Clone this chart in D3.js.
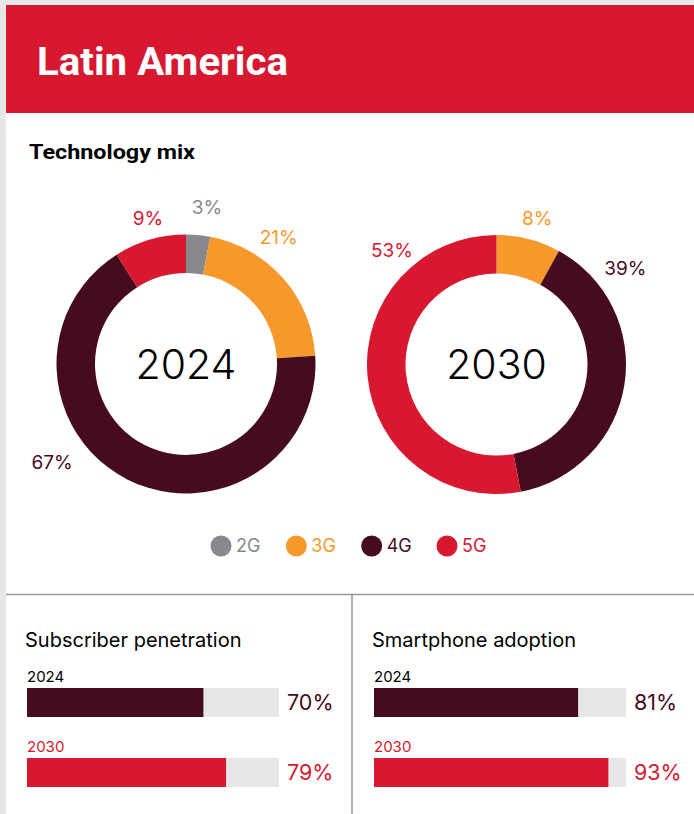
<!DOCTYPE html>
<html>
<head>
<meta charset="utf-8">
<script src="https://cdn.jsdelivr.net/npm/d3@7"></script>
<style>
  html, body { margin: 0; padding: 0; background: #e6e7e8; }
  svg { display: block; }
</style>
</head>
<body>
<svg id="chart" width="694" height="814"></svg>
<script>
// Technology mix data (share of mobile connections, %)
const technologies = ["2G", "3G", "4G", "5G"];
const mix2024 = [3, 21, 67, 9];
const mix2030 = [0, 8, 39, 53];
const mixYears = ["2024", "2030"];

// Penetration / adoption data (%)
const barYears = ["2024", "2030"];
const subscriberPenetration = [70, 79];
const smartphoneAdoption = [81, 93];

const techColors = {"2G": "#88898d", "3G": "#f7982a", "4G": "#470b1e", "5G": "#d7182f"};
const yearColors = {"2024": "#470b1e", "2030": "#d7182f"};
const RED = "#d7182f";

const svg = d3.select("#chart");

// card
svg.append("rect").attr("x", 6).attr("y", 5).attr("width", 688).attr("height", 809).attr("fill", "#fff");

// header band
svg.append("rect").attr("x", 6).attr("y", 5).attr("width", 688).attr("height", 108).attr("fill", RED);
svg.append("text").attr("x", 37).attr("y", 75)
  .attr("font-family", "Roboto, sans-serif").attr("font-weight", 700).attr("font-size", 38)
  .attr("fill", "#fff").attr("textLength", 251).attr("lengthAdjust", "spacingAndGlyphs")
  .text("Latin America");

svg.append("text").attr("x", 29).attr("y", 159)
  .attr("font-family", "Roboto, sans-serif").attr("font-weight", 700).attr("font-size", 20)
  .attr("fill", "#000").attr("textLength", 166).attr("lengthAdjust", "spacingAndGlyphs")
  .text("Technology mix");

// donuts
const arc = d3.arc().innerRadius(91).outerRadius(129.5);
const pie = d3.pie().sort(null).value(d => d.value);

// label placement around each donut: [angle in degrees clockwise from top, radius]
const labelPlacement = {
  "2024": {"2G": [7.6, 158], "3G": [36.2, 157], "4G": [233.8, 166], "5G": [345.4, 151]},
  "2030": {"3G": [15.5, 152], "4G": [53.1, 161], "5G": [317.6, 155]}
};
const donutCenters = {"2024": [186, 364], "2030": [496.5, 364.5]};

[mix2024, mix2030].forEach((values, i) => {
  const year = mixYears[i];
  const [cx, cy] = donutCenters[year];
  const data = technologies.map((t, j) => ({tech: t, value: values[j]}));
  const g = svg.append("g").attr("transform", `translate(${cx},${cy})`);
  const arcs = pie(data).filter(d => d.data.value > 0);
  g.selectAll("path").data(arcs).join("path")
    .attr("d", arc).attr("fill", d => techColors[d.data.tech]);
  g.selectAll("text.pct").data(arcs).join("text").attr("class", "pct")
    .each(function(d) {
      const p = labelPlacement[year][d.data.tech];
      const [x, y] = d3.pointRadial(p[0] * Math.PI / 180, p[1]);
      d3.select(this).attr("x", x).attr("y", y);
    })
    .attr("dy", "0.36em").attr("text-anchor", "middle")
    .attr("font-family", "Inter, sans-serif").attr("font-size", 19)
    .attr("fill", d => techColors[d.data.tech])
    .text(d => d.data.value + "%");
  g.append("text").attr("text-anchor", "middle").attr("dy", "0.36em")
    .attr("font-family", "Inter, sans-serif").attr("font-weight", 300).attr("font-size", 41)
    .attr("fill", "#000").text(year);
});

// legend
const legendX = d3.scalePoint().domain(technologies).range([221, 447]);
const legend = svg.append("g").selectAll("g").data(technologies).join("g")
  .attr("transform", d => `translate(${legendX(d)},546)`);
legend.append("circle").attr("r", 10.5).attr("fill", d => techColors[d]);
legend.append("text").attr("x", 15).attr("dy", "0.36em")
  .attr("font-family", "Inter, sans-serif").attr("font-size", 18)
  .attr("fill", d => techColors[d]).text(d => d);

// dividers
svg.append("line").attr("x1", 6).attr("x2", 694).attr("y1", 594.5).attr("y2", 594.5)
  .attr("stroke", "#9a9a9a").attr("stroke-width", 1.5);
svg.append("line").attr("x1", 352).attr("x2", 352).attr("y1", 594).attr("y2", 814)
  .attr("stroke", "#9a9a9a").attr("stroke-width", 1.5);

// bar panels
function barPanel(x0, title, values) {
  const g = svg.append("g");
  g.append("text").attr("x", x0 - 2).attr("y", 647)
    .attr("font-family", "Inter, sans-serif").attr("font-size", 20).attr("fill", "#000")
    .text(title);
  const x = d3.scaleLinear().domain([0, 100]).range([x0, x0 + 252]);
  const y = d3.scaleOrdinal().domain(barYears).range([688, 758]);
  const barH = 29;
  barYears.forEach((yr, i) => {
    g.append("text").attr("x", x0).attr("y", y(yr) - 6)
      .attr("font-family", "Inter, sans-serif").attr("font-size", 15)
      .attr("fill", yr === "2024" ? "#000" : RED).text(yr);
    g.append("rect").attr("x", x(0)).attr("y", y(yr)).attr("height", barH)
      .attr("width", x(100) - x(0)).attr("fill", "#e6e7e8");
    g.append("rect").attr("x", x(0)).attr("y", y(yr)).attr("height", barH)
      .attr("width", x(values[i]) - x(0)).attr("fill", yearColors[yr]);
    g.append("text").attr("x", x(100) + 8).attr("y", y(yr) + barH / 2).attr("dy", "0.36em")
      .attr("font-family", "Inter, sans-serif").attr("font-size", 21.5)
      .attr("fill", yearColors[yr]).text(values[i] + "%");
  });
}
barPanel(27, "Subscriber penetration", subscriberPenetration);
barPanel(374, "Smartphone adoption", smartphoneAdoption);
</script>
</body>
</html>
